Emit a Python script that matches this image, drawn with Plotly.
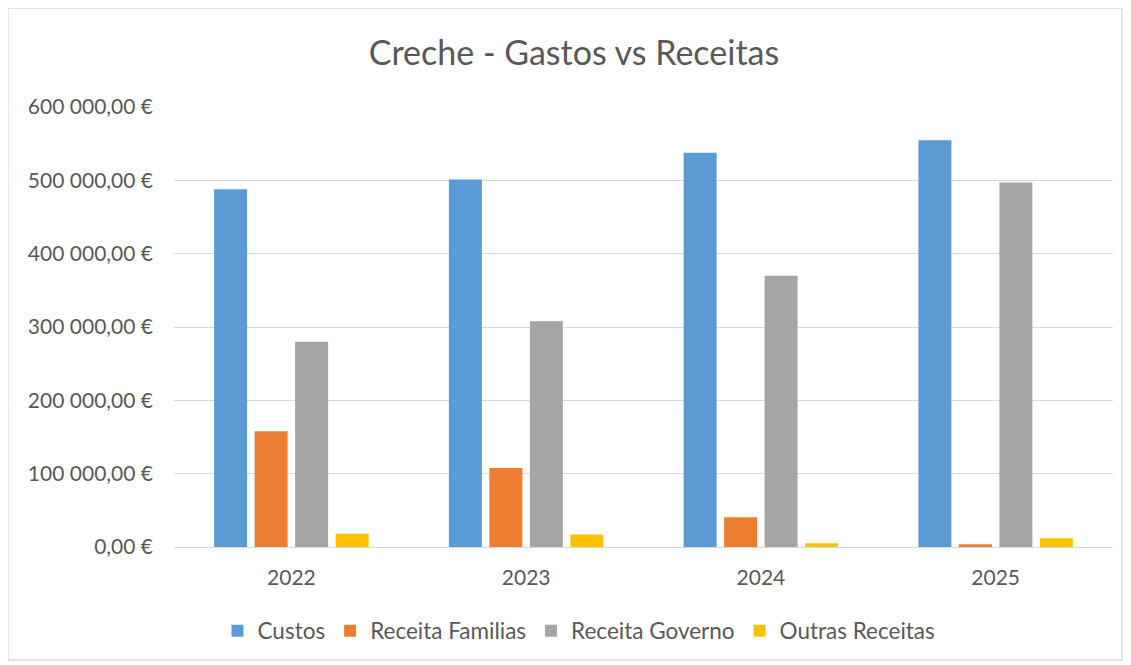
import plotly.graph_objects as go

years = ["2022", "2023", "2024", "2025"]
custos = [488000, 501000, 537500, 554800]
receita_familias = [158000, 107800, 40500, 3700]
receita_governo = [280000, 308000, 370000, 497000]
outras_receitas = [18200, 17000, 5000, 11800]

series_names = ["Custos", "Receita Familias", "Receita Governo", "Outras Receitas"]
series_colors = ["#5B9BD5", "#ED7D31", "#A5A5A5", "#FFC000"]

y_tickvals = [0, 100000, 200000, 300000, 400000, 500000, 600000]
y_ticktext = ["0,00 €", "100 000,00 €", "200 000,00 €", "300 000,00 €",
              "400 000,00 €", "500 000,00 €", "600 000,00 €"]

FONT = "Lato"
TXT = "#595959"

# page body adds an 8px offset; figure is sized to fit the window
W, H = 1123, 657
OFF = 8
PL, PR, PT, PB = 174 - OFF, 1113 - OFF, 107 - OFF, 547 - OFF
PW, PH = PR - PL, PB - PT

fig = go.Figure()
for name, vals, col in zip(series_names,
                           [custos, receita_familias, receita_governo, outras_receitas],
                           series_colors):
    fig.add_trace(go.Bar(x=years, y=vals, name=name, marker_color=col,
                         marker_line_width=0))

fig.update_layout(
    width=W, height=H,
    paper_bgcolor="white", plot_bgcolor="white",
    margin=dict(l=PL, r=W - PR, t=PT, b=H - PB, pad=0),
    font=dict(family=FONT, color=TXT, size=21),
    title=dict(text="Creche - Gastos vs Receitas", x=(574 - OFF) / W, xanchor="center",
               y=1 - (53 - OFF) / H, yanchor="middle",
               font=dict(family=FONT, size=34, color=TXT)),
    barmode="group", bargap=0.31, bargroupgap=0.185,
    showlegend=True,
    legend=dict(orientation="h", x=(579 - 174) / 939, xanchor="center",
                y=(547 - 631) / 440, yanchor="middle",
                font=dict(family=FONT, size=22.5, color=TXT),
                itemwidth=30, traceorder="normal"),
)
fig.update_yaxes(range=[0, 600000], tickvals=y_tickvals, ticktext=y_ticktext,
                 showgrid=True, gridcolor="#D9D9D9", gridwidth=1.3,
                 zeroline=False, showline=False, ticks="",
                 ticklabelstandoff=20, tickfont=dict(size=21, color=TXT))
fig.update_xaxes(showline=True, linecolor="#D9D9D9", linewidth=1.3,
                 ticks="", ticklabelstandoff=12,
                 tickfont=dict(size=21, color=TXT))

# outer chart border
fig.add_shape(type="rect", xref="paper", yref="paper",
              x0=(8 - 174) / 939, x1=(1122 - 174) / 939,
              y0=(547 - 660) / 440, y1=(547 - 8) / 440,
              line=dict(color="#D9D9D9", width=1.3), fillcolor="rgba(0,0,0,0)",
              layer="below")

fig.write_html("out.html")
